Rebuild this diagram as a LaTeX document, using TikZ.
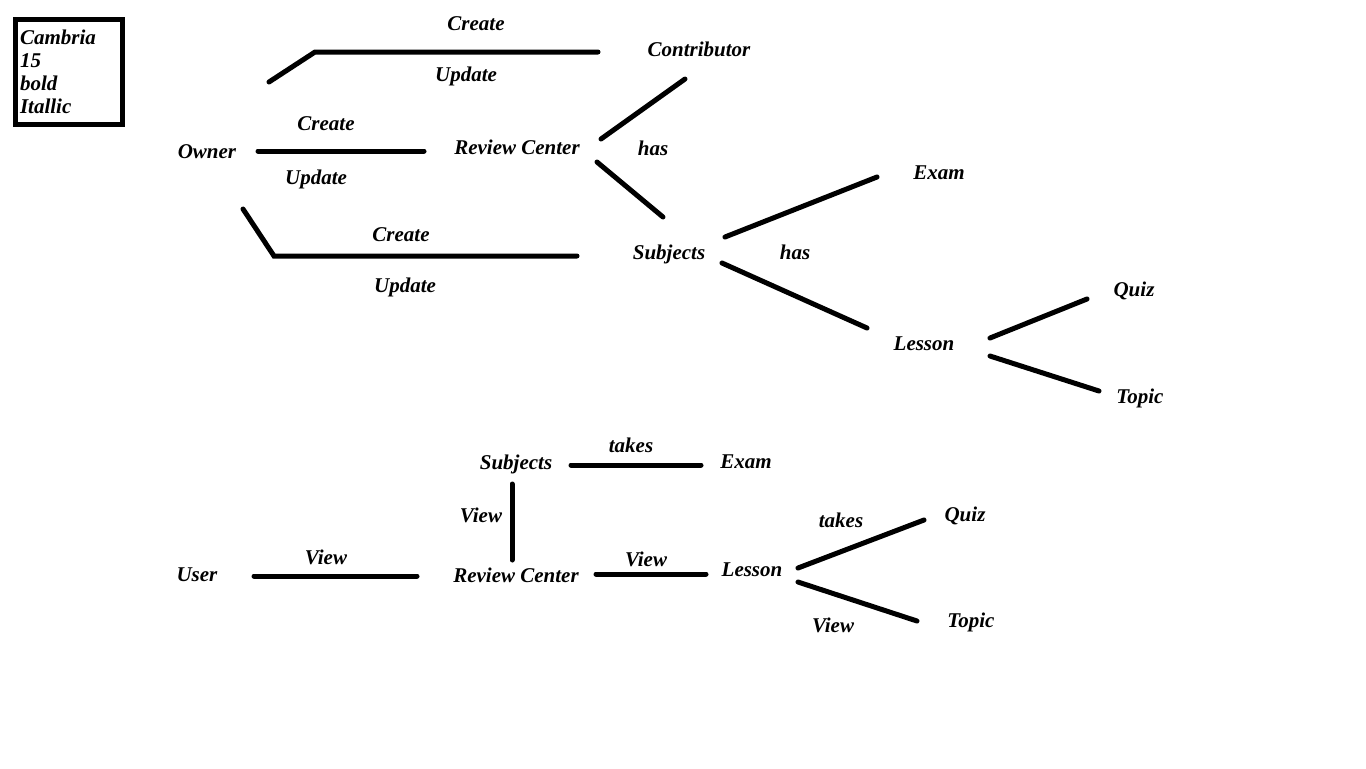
\documentclass[tikz,border=0pt]{standalone}
\usepackage{fontspec}
\setmainfont{Liberation Serif}
\usetikzlibrary{calc}

\begin{document}
\begin{tikzpicture}[x=0.5pt,y=-0.5pt,
  every node/.style={font=\fontsize{10.5}{11.5}\selectfont\bfseries\itshape,inner sep=1pt},
  link/.style={line width=2.5pt,line cap=round}]
  \useasboundingbox (0,0) rectangle (1366,768);
  % font note box
  \node[draw,line width=2.5pt,anchor=north west,minimum width=53.5pt,minimum height=52.5pt,
        text width=48.5pt,inner xsep=2.5pt,align=left] (note) at (12.5,16.5)
        {Cambria\\15\\bold\\Itallic};

  % owner side
  \node (owner) at (207,152) {Owner};
  \node (rc) at (517,147) {Review Center};
  \node (contrib) at (699,49) {Contributor};
  \node (subj) at (669,254) {Subjects};
  \node (exam) at (939,173) {Exam};
  \node (lesson) at (924,344) {Lesson};
  \node (quiz) at (1134,291) {Quiz};
  \node (topic) at (1140,398) {Topic};
  % owner side labels
  \node (lc1) at (476,24) {Create};
  \node (lu1) at (466,76) {Update};
  \node (lc2) at (326,124) {Create};
  \node (lu2) at (316,179) {Update};
  \node (lc3) at (401,235) {Create};
  \node (lu3) at (405,287) {Update};
  \node (lh1) at (653,148) {has};
  \node (lh2) at (795,252) {has};
  % owner side links
  \draw[link] ($(owner)+(62,-70)$) -- ($(owner)+(108,-100)$) -- ($(contrib)+(-101,3)$);
  \draw[link] ($(owner)+(51,-1)$) -- ($(rc)+(-93,4)$);
  \draw[link] ($(owner)+(36,57)$) -- ($(owner)+(67,104)$) -- ($(subj)+(-92,2)$);
  \draw[link] ($(rc)+(84,-8)$) -- ($(contrib)+(-14,30)$);
  \draw[link] ($(rc)+(80,15)$) -- ($(subj)+(-6,-37)$);
  \draw[link] ($(subj)+(56,-17)$) -- ($(exam)+(-62,4)$);
  \draw[link] ($(subj)+(53,9)$) -- ($(lesson)+(-57,-16)$);
  \draw[link] ($(lesson)+(66,-6)$) -- ($(quiz)+(-47,8)$);
  \draw[link] ($(lesson)+(66,12)$) -- ($(topic)+(-41,-7)$);

  % user side
  \node (user) at (197,575) {User};
  \node (urc) at (516,575) {Review Center};
  \node (usubj) at (516,464) {Subjects};
  \node (uexam) at (746,462) {Exam};
  \node (ulesson) at (752,570) {Lesson};
  \node (uquiz) at (965,516) {Quiz};
  \node (utopic) at (971,622) {Topic};
  % user side labels
  \node (lt1) at (631,445) {takes};
  \node (lv1) at (481,515) {View};
  \node (lv2) at (326,557) {View};
  \node (lv3) at (646,559) {View};
  \node (lt2) at (841,520) {takes};
  \node (lv4) at (833,625) {View};
  % user side links
  \draw[link] ($(usubj)+(55,1)$) -- ($(uexam)+(-45,3)$);
  \draw[link] ($(usubj)+(-4,20)$) -- ($(urc)+(-4,-15)$);
  \draw[link] ($(user)+(57,1)$) -- ($(urc)+(-99,1)$);
  \draw[link] ($(urc)+(80,-1)$) -- ($(ulesson)+(-46,4)$);
  \draw[link] ($(ulesson)+(46,-2)$) -- ($(uquiz)+(-41,4)$);
  \draw[link] ($(ulesson)+(46,12)$) -- ($(utopic)+(-54,-1)$);
\end{tikzpicture}
\end{document}
